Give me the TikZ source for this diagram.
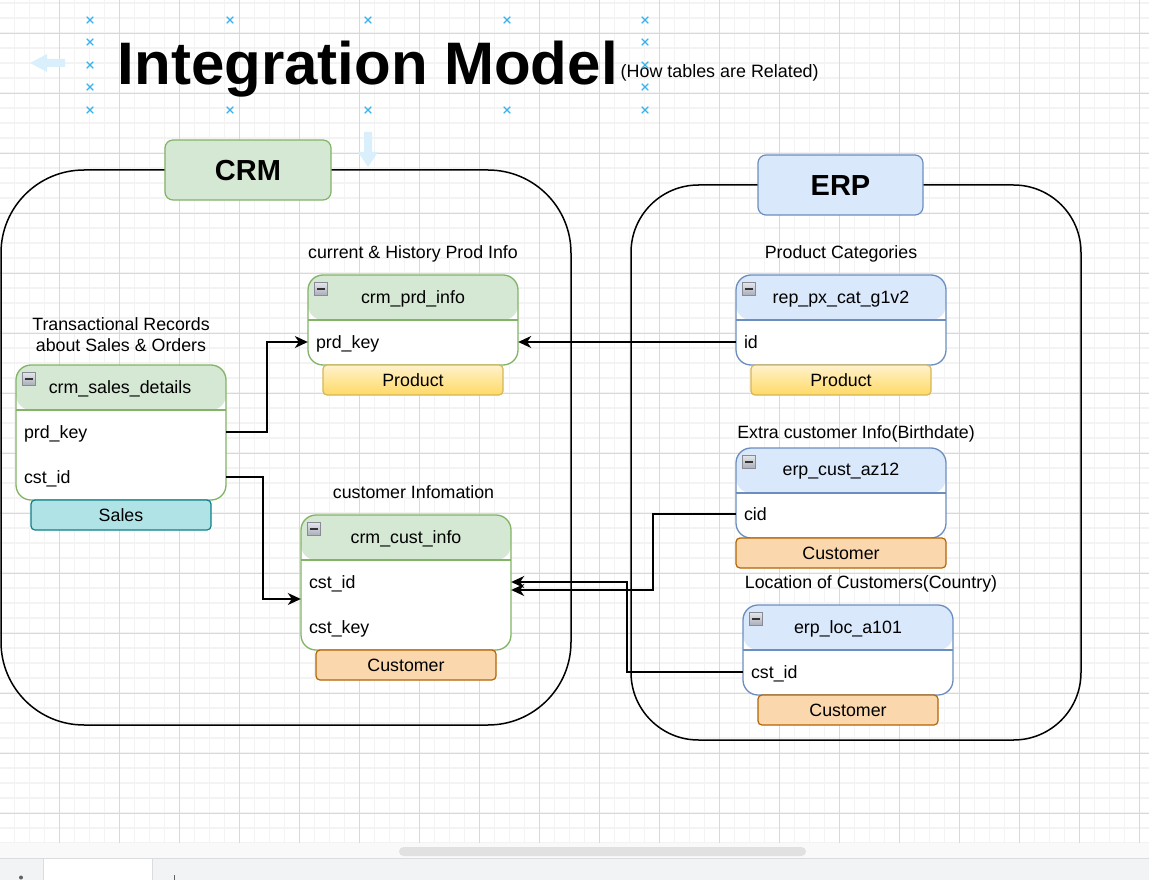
\documentclass[tikz,border=0pt]{standalone}
\usepackage{fontspec}
\setmainfont{Liberation Sans}
\usetikzlibrary{arrows.meta}
\definecolor{grnF}{HTML}{D5E8D4}
\definecolor{grnS}{HTML}{82B366}
\definecolor{bluF}{HTML}{DAE8FC}
\definecolor{bluS}{HTML}{6C8EBF}
\definecolor{yelT}{HTML}{FFF2CC}
\definecolor{yelB}{HTML}{FFD966}
\definecolor{yelS}{HTML}{D6B656}
\definecolor{orgF}{HTML}{FAD7AC}
\definecolor{orgS}{HTML}{B46504}
\definecolor{teaF}{HTML}{B0E3E6}
\definecolor{teaS}{HTML}{0E8088}
\definecolor{gMin}{HTML}{F3F3F3}
\definecolor{gMaj}{HTML}{D9D9D9}
\definecolor{selB}{HTML}{35B3F0}
\definecolor{hintB}{HTML}{DAEFFC}
\definecolor{icoS}{HTML}{8A8A94}
\definecolor{icoT}{HTML}{E4E6EC}
\definecolor{icoL}{HTML}{A9ADB8}
\definecolor{uiBand}{HTML}{F9F9F9}
\definecolor{uiThumb}{HTML}{E1E1E1}
\definecolor{uiLine}{HTML}{DADCE0}
\definecolor{uiBg}{HTML}{F1F3F4}
\definecolor{uiDark}{HTML}{5F6368}
\newcommand\fsz{\fontsize{17.8}{21}\selectfont}
\newcommand\minusicon[2]{%
  \draw[draw=icoS, top color=icoT, bottom color=icoL, line width=0.8pt] (#1,#2) rectangle ++(13,13);
  \fill[black!80] (#1+2.8,#2+5.6) rectangle ++(7.4,2);}
\begin{document}
\begin{tikzpicture}[x=1pt,y=-1pt,
  gminor/.style={gMin, line width=1.3pt},
  gmajor/.style={gMaj, line width=0.9pt},
  cont/.style={draw=black, line width=1.5pt},
  grp/.style={minimum height=60pt, rounded corners=8pt, line width=1.2pt, inner sep=0pt,
    font=\fontsize{29}{30}\selectfont\bfseries, text height=20.8pt, text depth=0pt},
  tbl/.style 2 args={draw=#2, line width=1.3pt, rounded corners=15pt, fill=white,
    minimum width=210pt, minimum height=90pt, inner sep=0pt,
    path picture={\fill[#1] (path picture bounding box.north west) rectangle ([yshift=-45pt]path picture bounding box.north east);
      \draw[#2, line width=1.3pt] ([yshift=-45pt]path picture bounding box.north west) -- ([yshift=-45pt]path picture bounding box.north east);}},
  ttl/.style={font=\fsz, inner sep=0pt, text height=12.7pt, text depth=0pt},
  rowtxt/.style={font=\fsz, text width=194pt, inner xsep=8pt, inner ysep=0pt, align=left, text height=12.7pt, text depth=0pt},
  captxt/.style={font=\fsz, inner sep=0pt, text height=12.7pt, text depth=0pt, align=center},
  tagbox/.style={minimum width=180pt, minimum height=30pt, rounded corners=4pt, line width=1.2pt,
    inner sep=0pt, font=\fsz, text height=12.7pt, text depth=0pt},
  conn/.style={draw=black, line width=1.5pt, -{Stealth[length=13pt,width=12pt,inset=4pt]}},
  xmk/.style={selB, line width=1.2pt},
  hintarr/.style={fill=hintB}
]
\useasboundingbox (0,0) rectangle (1149,880);
\fill[white] (0,0) rectangle (1149,880);
% grid
\foreach \k in {0,...,77} \draw[gminor] ({\k*15-0.5},0) -- ({\k*15-0.5},843);
\foreach \k in {0,...,56} \draw[gminor] (0,{\k*15+3}) -- (1149,{\k*15+3});
\foreach \k in {1,...,19} \draw[gmajor] ({\k*60-0.5},0) -- ({\k*60-0.5},843);
\foreach \k in {0,...,13} \draw[gmajor] (0,{\k*60+33}) -- (1149,{\k*60+33});
% bottom UI
\fill[uiBand] (0,843) rectangle (1149,858);
\fill[uiThumb, rounded corners=4.5pt] (399,847) rectangle (806,856);
\fill[uiBg] (0,858) rectangle (1149,880);
\draw[uiLine, line width=1pt] (0,858) -- (1149,858);
\fill[white] (44,858.5) rectangle (152,880);
\draw[uiLine, line width=1pt] (43.5,858) -- (43.5,880) (152.5,858) -- (152.5,880);
\fill[uiDark] (21,877.5) circle (2pt);
\draw[uiDark, line width=1.4pt] (174.5,875) -- (174.5,880);
% hint arrows
\fill[hintarr] (30,63) -- (47,54) -- (47,59) -- (65,59) -- (65,67) -- (47,67) -- (47,72) -- cycle;
\fill[hintarr] (368,167) -- (358,152) -- (364,152) -- (364,132) -- (372,132) -- (372,152) -- (378,152) -- cycle;
% title
\node[anchor=base west, inner sep=0pt, font=\fontsize{60}{70}\selectfont\bfseries] (title) at (117.5,85) {Integration Model};
\node[anchor=base west, inner sep=0pt, font=\fontsize{17.9}{20}\selectfont] (subtitle) at (620.5,78) {(How tables are Related)};
% containers
\draw[cont, rounded corners=83pt] (1,170) rectangle (571,725);
\draw[cont, rounded corners=67.5pt] (631,185) rectangle (1081,740);
\node[grp, fill=grnF, draw=grnS, minimum width=166pt] (crm) at (248,170) {CRM};
\node[grp, fill=bluF, draw=bluS, minimum width=165pt] (erp) at (840.5,185) {ERP};
% captions
\node[captxt] (c-sd) at (121,345.5) {Transactional Records\\about Sales \& Orders};
\node[captxt] (c-prd) at (413,252) {current \& History Prod Info};
\node[captxt] (c-ci) at (413.5,492) {customer Infomation};
\node[captxt] (c-cat) at (841,252) {Product Categories};
\node[captxt] (c-az) at (856,432) {Extra customer Info(Birthdate)};
\node[captxt] (c-loc) at (871,582) {Location of Customers(Country)};
% tables
\node[tbl={grnF}{grnS}, minimum height=135pt] (sd) at (121,432.5) {};
\node[tbl={grnF}{grnS}] (prd) at (413,320) {};
\node[tbl={grnF}{grnS}, minimum height=135pt] (ci) at (406,582.5) {};
\node[tbl={bluF}{bluS}] (cat) at (841,320) {};
\node[tbl={bluF}{bluS}] (az) at (841,493) {};
\node[tbl={bluF}{bluS}] (loc) at (848,650) {};
\minusicon{22.5}{372.5}
\minusicon{314.5}{282.5}
\minusicon{307.5}{522.5}
\minusicon{742.5}{282.5}
\minusicon{742.5}{455.5}
\minusicon{749.5}{612.5}
\node[ttl] (sd-t) at (120,387) {crm\_sales\_details};
\node[ttl] (prd-t) at (413,297) {crm\_prd\_info};
\node[ttl] (ci-t) at (406,537) {crm\_cust\_info};
\node[ttl] (cat-t) at (841,297) {rep\_px\_cat\_g1v2};
\node[ttl] (az-t) at (841,469) {erp\_cust\_az12};
\node[ttl] (loc-t) at (848,627) {erp\_loc\_a101};
% rows
\node[rowtxt] (sd-prd) at (121,432) {prd\_key};
\node[rowtxt] (sd-cst) at (121,477) {cst\_id};
\node[rowtxt] (prd-key) at (413,342) {prd\_key};
\node[rowtxt] (ci-cst) at (406,582) {cst\_id};
\node[rowtxt] (ci-key) at (406,627) {cst\_key};
\node[rowtxt] (cat-id) at (841,342) {id};
\node[rowtxt] (az-cid) at (841,514) {cid};
\node[rowtxt] (loc-cst) at (848,672) {cst\_id};
% tags
\node[tagbox, top color=yelT, bottom color=yelB, draw=yelS] (prd-tag) at (413,380) {Product};
\node[tagbox, fill=teaF, draw=teaS] (sd-tag) at (121,515) {Sales};
\node[tagbox, fill=orgF, draw=orgS] (ci-tag) at (406,665) {Customer};
\node[tagbox, top color=yelT, bottom color=yelB, draw=yelS] (cat-tag) at (841,380) {Product};
\node[tagbox, fill=orgF, draw=orgS, minimum width=210pt] (az-tag) at (841,553) {Customer};
\node[tagbox, fill=orgF, draw=orgS] (loc-tag) at (848,710) {Customer};
% connectors
\draw[conn] (sd-prd.east) -- ++(41,0) |- (prd-key.west);
\draw[conn] (sd-cst.east) -- ++(37,0) |- ([yshift=-17pt]ci-cst.west);
\draw[conn] (cat-id.west) -- (prd-key.east);
\draw[conn] (az-cid.west) -- ++(-83,0) |- ([yshift=-8pt]ci-cst.east);
\draw[conn] (loc-cst.west) -- ++(-116,0) |- (ci-cst.east);
% selection marks
\foreach \x in {90,645} \foreach \y in {20,42,65,87,110}
  \draw[xmk] (\x-3.3,\y-3.3) -- (\x+3.3,\y+3.3) (\x-3.3,\y+3.3) -- (\x+3.3,\y-3.3);
\foreach \x in {230,368,507} \foreach \y in {20,110}
  \draw[xmk] (\x-3.3,\y-3.3) -- (\x+3.3,\y+3.3) (\x-3.3,\y+3.3) -- (\x+3.3,\y-3.3);
\end{tikzpicture}
\end{document}
